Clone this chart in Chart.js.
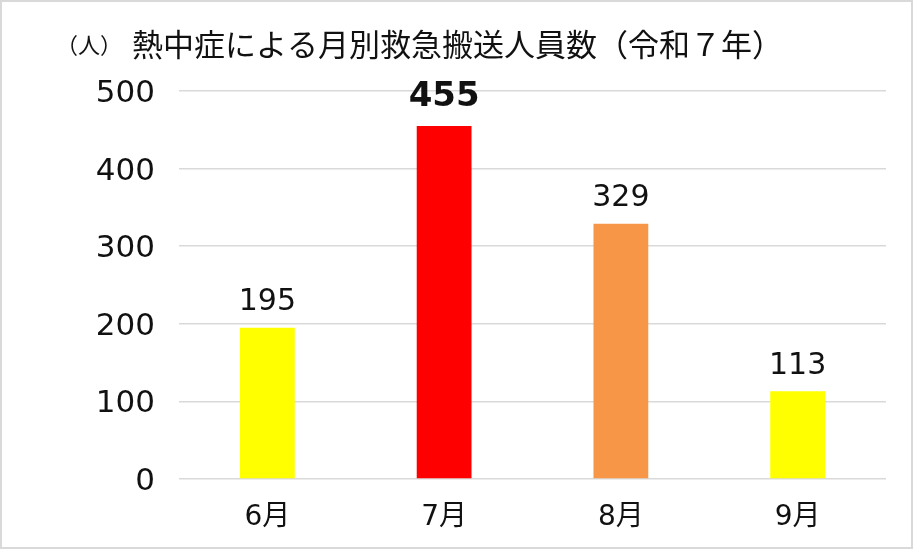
<!DOCTYPE html>
<html>
<head>
<meta charset="utf-8">
<script src="https://cdn.jsdelivr.net/npm/chart.js@4/dist/chart.umd.min.js"></script>
<style>
  body { margin: 0; background: #fff; }
  #wrap { width: 913px; height: 549px; box-sizing: border-box; border: 2px solid #d9d9d9; background: #fff; }
  canvas { display: block; }
</style>
</head>
<body>
<div id="wrap"><canvas id="chart" width="909" height="545"></canvas></div>
<script>
const months = ['6月', '7月', '8月', '9月'];
const persons = [195, 455, 329, 113];
const barColors = ['#ffff00', '#ff0000', '#f79646', '#ffff00'];
const boldLabel = [false, true, false, false];
const unitText = '（人）';
const titleText = '熱中症による月別救急搬送人員数（令和７年）';

const FONT = "'DejaVu Sans', 'Noto Sans CJK JP', sans-serif";
const JPFONT = "'Noto Sans CJK JP', sans-serif";

// title + unit drawn on the canvas
const titlePlugin = {
    id: 'titleText',
    afterDraw(chart) {
        const ctx = chart.ctx;
        ctx.save();
        ctx.fillStyle = '#111';
        ctx.textBaseline = 'middle';
        ctx.textAlign = 'left';
        ctx.font = '22px ' + JPFONT;
        ctx.fillText(unitText, 54, 43);
        ctx.font = '31px ' + JPFONT;
        ctx.fillText(titleText, 130, 42);
        ctx.restore();
    }
};

// value labels above the bars
const valuePlugin = {
    id: 'valueLabels',
    afterDatasetsDraw(chart) {
        const ctx = chart.ctx;
        const meta = chart.getDatasetMeta(0);
        ctx.save();
        ctx.fillStyle = '#111';
        ctx.textAlign = 'center';
        ctx.textBaseline = 'middle';
        meta.data.forEach(function(bar, i) {
            if (boldLabel[i]) {
                ctx.font = 'bold 34px ' + FONT;
                ctx.fillText(String(persons[i]), bar.x, bar.y - 29);
            } else {
                ctx.font = '30px ' + FONT;
                ctx.fillText(String(persons[i]), bar.x, bar.y - 25);
            }
        });
        ctx.restore();
    }
};

new Chart(document.getElementById('chart').getContext('2d'), {
    type: 'bar',
    data: {
        labels: months,
        datasets: [
            {
                label: '',
                data: persons,
                backgroundColor: barColors,
                borderWidth: 0,
                barPercentage: 0.31,
                categoryPercentage: 1.0
            }
        ]
    },
    options: {
        responsive: false,
        animation: false,
        layout: {
            padding: { top: 89, left: 25, right: 25, bottom: 0 }
        },
        plugins: {
            legend: { display: false },
            tooltip: { enabled: false }
        },
        scales: {
            x: {
                grid: { display: false },
                border: { display: false },
                ticks: {
                    color: '#111',
                    padding: 14,
                    maxRotation: 0,
                    font: { family: FONT, size: 28 }
                },
                afterFit: function(s) { s.height = 68; }
            },
            y: {
                min: 0,
                max: 500,
                grid: { color: '#d9d9d9', lineWidth: 1.5, drawTicks: false },
                border: { display: false },
                ticks: {
                    stepSize: 100,
                    color: '#111',
                    padding: 24,
                    labelOffset: 3,
                    font: { family: FONT, size: 31 }
                },
                afterFit: function(s) { s.width = 152; }
            }
        }
    },
    plugins: [titlePlugin, valuePlugin]
});
</script>
</body>
</html>
